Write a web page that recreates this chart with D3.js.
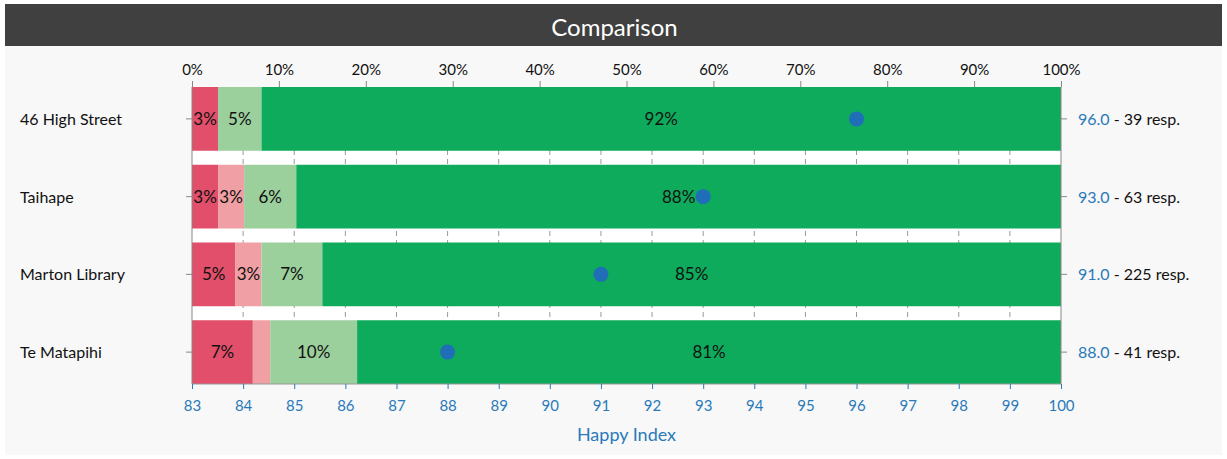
<!DOCTYPE html>
<html>
<head>
<meta charset="utf-8">
<script src="https://cdn.jsdelivr.net/npm/d3@7"></script>
<style>
  body { margin: 0; background: #fff; font-family: Lato, sans-serif; }
</style>
</head>
<body>
<div id="chart"></div>
<script>
// data
let sites = ["46 High Street", "Taihape", "Marton Library", "Te Matapihi"];
let veryUnhappy = [3, 3, 5, 7];
let unhappy = [0, 3, 3, 2];
let happy = [5, 6, 7, 10];
let veryHappy = [92, 88, 85, 81];
let happyIndex = [96.0, 93.0, 91.0, 88.0];
let responses = [39, 63, 225, 41];
let pctTicks = [0, 10, 20, 30, 40, 50, 60, 70, 80, 90, 100];
let indexTicks = d3.range(83, 101);

let W = 1227, H = 459;
let margin = {top: 87, right: 166, bottom: 75, left: 192},
    width = W - margin.left - margin.right,
    height = H - margin.top - margin.bottom;

let colors = ["#e14f6a", "#f09fa4", "#9bcf9c", "#0eab5c"];
let blue = "#2a7ab9";

let svg = d3.select("#chart").append("svg")
    .attr("width", W)
    .attr("height", H);

// panel + title bar
svg.append("rect").attr("x", 5).attr("y", 4).attr("width", W - 10).attr("height", H - 8).attr("fill", "#f8f8f8");
svg.append("rect").attr("x", 5).attr("y", 4).attr("width", W - 10).attr("height", 42).attr("fill", "#404040");
svg.append("text")
    .attr("x", W / 2 + 1).attr("y", 36)
    .attr("text-anchor", "middle")
    .attr("fill", "#fff")
    .style("font-size", "24px")
    .text("Comparison");

let x = d3.scaleLinear().domain([0, 100]).range([0, width]);
let xi = d3.scaleLinear().domain([83, 100]).range([0, width]);
let y = d3.scaleBand().domain(sites).range([0, height]).paddingInner(0.18).paddingOuter(0);

let g = svg.append("g").attr("transform", "translate(" + margin.left + "," + margin.top + ")");

g.append("rect").attr("width", width).attr("height", height).attr("fill", "#fff");

// dashed grid from the index ticks
g.selectAll("line.grid")
    .data(indexTicks.slice(1, -1))
    .enter().append("line")
    .attr("class", "grid")
    .attr("x1", d => xi(d)).attr("x2", d => xi(d))
    .attr("y1", 0).attr("y2", height)
    .attr("stroke", "#999")
    .attr("stroke-width", 1)
    .attr("stroke-dasharray", "5,4");

let rows = sites.map(function(s, i) {
    let vals = [veryUnhappy[i], unhappy[i], happy[i], veryHappy[i]];
    let acc = 0;
    return vals.map(function(v, k) {
        let seg = {site: s, k: k, v: v, x0: acc, x1: acc + v};
        acc += v;
        return seg;
    });
});
let segs = rows.flat();

g.selectAll("rect.seg")
    .data(segs)
    .enter().append("rect")
    .attr("class", "seg")
    .attr("x", d => x(d.x0))
    .attr("y", d => y(d.site))
    .attr("width", d => x(d.x1) - x(d.x0))
    .attr("height", y.bandwidth())
    .attr("fill", d => colors[d.k]);

g.selectAll("text.seg")
    .data(segs.filter(d => x(d.x1) - x(d.x0) > 22))
    .enter().append("text")
    .attr("class", "seg")
    .attr("x", d => (x(d.x0) + x(d.x1)) / 2)
    .attr("y", d => y(d.site) + y.bandwidth() / 2 + 6)
    .attr("text-anchor", "middle")
    .attr("fill", "#111")
    .style("font-size", "17px")
    .text(d => d.v + "%");

g.selectAll("circle")
    .data(happyIndex)
    .enter().append("circle")
    .attr("cx", d => xi(d))
    .attr("cy", (d, i) => y(sites[i]) + y.bandwidth() / 2)
    .attr("r", 7.5)
    .attr("fill", "#1f6eb7");

// axes
let topAxis = g.append("g")
    .call(d3.axisTop(x).tickValues(pctTicks).tickFormat(d => d + "%").tickSize(6).tickPadding(6));
topAxis.select(".domain").remove();
topAxis.selectAll("line").attr("stroke", "#888");
topAxis.selectAll("text").attr("fill", "#111").style("font-size", "15px").style("font-family", "Lato, sans-serif");

let leftAxis = g.append("g")
    .call(d3.axisLeft(y).tickSize(6).tickFormat(""));
leftAxis.select(".domain").attr("stroke", "#888").attr("d", "M0,0V" + height);
leftAxis.selectAll("line").attr("stroke", "#888");

svg.selectAll("text.site")
    .data(sites)
    .enter().append("text")
    .attr("class", "site")
    .attr("x", 20)
    .attr("y", d => margin.top + y(d) + y.bandwidth() / 2 + 6)
    .attr("fill", "#111")
    .style("font-size", "16px")
    .text(d => d);

let rightAxis = g.append("g")
    .attr("transform", "translate(" + width + ",0)")
    .call(d3.axisRight(y).tickSize(6).tickFormat(""));
rightAxis.select(".domain").attr("stroke", "#888").attr("d", "M0,0V" + height);
rightAxis.selectAll("line").attr("stroke", "#888");

let rl = svg.selectAll("text.resp")
    .data(sites)
    .enter().append("text")
    .attr("class", "resp")
    .attr("x", margin.left + width + 17)
    .attr("y", d => margin.top + y(d) + y.bandwidth() / 2 + 6)
    .style("font-size", "16px");
rl.append("tspan").attr("fill", blue).text((d, i) => happyIndex[i].toFixed(1));
rl.append("tspan").attr("fill", "#111").text((d, i) => " - " + responses[i] + " resp.");

let bottomAxis = g.append("g")
    .attr("transform", "translate(0," + height + ")")
    .call(d3.axisBottom(xi).tickValues(indexTicks).tickFormat(d3.format("d")).tickSize(5).tickPadding(11));
bottomAxis.select(".domain").attr("stroke", "#999").attr("d", "M0,0H" + width);
bottomAxis.selectAll("line").attr("stroke", blue);
bottomAxis.selectAll("text").attr("fill", blue).style("font-size", "15px").style("font-family", "Lato, sans-serif");

svg.append("text")
    .attr("x", margin.left + width / 2)
    .attr("y", 441)
    .attr("text-anchor", "middle")
    .attr("fill", blue)
    .style("font-size", "18px")
    .text("Happy Index");
</script>
</body>
</html>
